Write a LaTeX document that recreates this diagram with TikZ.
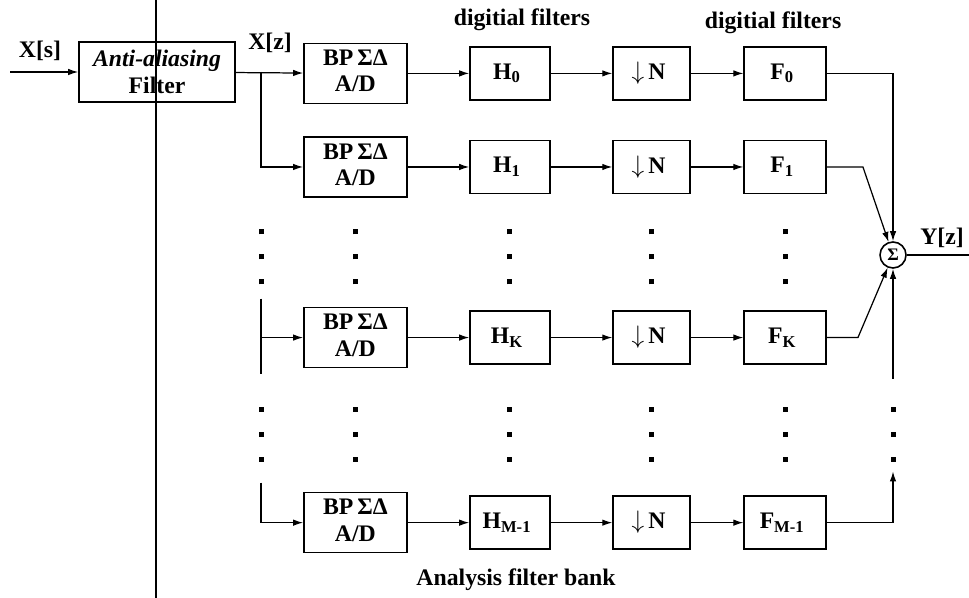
\documentclass[tikz,border=0pt]{standalone}
\usepackage{fontspec}
\setmainfont{Liberation Serif}
\usepackage{tikz}
\usetikzlibrary{matrix,arrows.meta}

\newcommand{\tridots}{\vbox{\offinterlineskip\hbox{\rule{1mm}{1mm}}\vskip4mm\hbox{\rule{1mm}{1mm}}\vskip4mm\hbox{\rule{1mm}{1mm}}}}
\newcommand{\adc}{\begin{tabular}{@{}c@{}}BP\,ΣΔ\\A/D\end{tabular}}

\begin{document}
\begin{tikzpicture}[>={Latex[length=2mm,width=1.3mm]}, line width=0.7pt,
	every node/.style={font=\fontsize{13.5}{15}\selectfont\bfseries},
	blk/.style={draw, line width=0.9pt, align=center},
	dotcell/.style={draw=none, inner sep=0pt, minimum height=1.1cm}]
	\useasboundingbox (0,0) rectangle (19.38,-11.96);
	\matrix(m)[matrix of nodes, matrix anchor=north west, inner sep=0pt,
		nodes={blk, anchor=center, inner sep=2pt, minimum height=1.06cm},
		column 1/.style={nodes={minimum width=2.06cm, minimum height=1.2cm}},
		column 2/.style={nodes={minimum width=1.6cm}},
		column 3/.style={nodes={minimum width=1.54cm}},
		column 4/.style={nodes={minimum width=1.64cm}},
		column sep=1.05cm, row sep=0pt] at (6.05,-0.84) {
		\adc	&[0.18cm] H\textsubscript{0}	&[0.18cm] $\downarrow$\,N	& F\textsubscript{0}	\\[0.64cm]
		\adc	& H\textsubscript{1}	& $\downarrow$\,N	& F\textsubscript{1}	\\[0.63cm]
		|[dotcell]|\tridots	&|[dotcell]|\tridots	&|[dotcell]|\tridots	&|[dotcell]|\tridots	\\[0.45cm]
		\adc	& H\textsubscript{K}	& $\downarrow$\,N	& F\textsubscript{K}	\\[0.77cm]
		|[dotcell]|\tridots	&|[dotcell]|\tridots	&|[dotcell]|\tridots	&|[dotcell]|\tridots	\\[0.6cm]
		\adc	& H\textsubscript{M-1}	& $\downarrow$\,N	& F\textsubscript{M-1}	\\
	};

	% input side
	\coordinate (xin) at (0.2,-1.44);
	\node[blk, minimum width=3.12cm, minimum height=1.2cm] (aaf) at (3.14,-1.44) {\textit{Anti-aliasing}\\Filter};
	\node (xs) at (0.8,-1.02) {X[s]};
	\node (xz) at (5.4,-0.86) {X[z]};
	\draw[->] (xin) -- (aaf);
	\draw[->] (aaf) -- (m-1-1);
	\draw[line width=0.8pt] (3.12,0) -- (3.12,-11.96);

	\node (dig1) at (10.44,-0.4) {digitial filters};
	\node (dig2) at (15.46,-0.46) {digitial filters};
	\node (afb) at (10.32,-11.6) {Analysis filter bank};

	% split to the branches
	\coordinate (split) at (5.22,-1.44);
	\draw[->] (split) |- (m-2-1);
	\node[dotcell] (ld1) at (split |- m-3-1) {\tridots};
	\draw ([yshift=7.8mm]split |- m-4-1) -- ([yshift=-7.2mm]split |- m-4-1);
	\draw[->] (split |- m-4-1) -- (m-4-1);
	\node[dotcell] (ld2) at (split |- m-5-1) {\tridots};
	\draw[->] ([yshift=8mm]split |- m-6-1) |- (m-6-1);

	% along each branch
	\path[->] (m-1-1) edge (m-1-2) (m-1-2) edge (m-1-3) (m-1-3) edge (m-1-4);
	\path[->] (m-2-1) edge (m-2-2) (m-2-2) edge (m-2-3) (m-2-3) edge (m-2-4);
	\path[->] (m-4-1) edge (m-4-2) (m-4-2) edge (m-4-3) (m-4-3) edge (m-4-4);
	\path[->] (m-6-1) edge (m-6-2) (m-6-2) edge (m-6-3) (m-6-3) edge (m-6-4);

	% summation
	\node[draw, circle, line width=0.9pt, inner sep=0pt, minimum size=0.52cm, font=\bfseries] (sum) at (17.86,-5.1) {Σ};
	\node (yz) at (18.84,-4.76) {Y[z]};
	\coordinate (yout) at (19.38,-5.1);
	\draw (sum) -- (yout);
	\draw[->] (m-1-4) -| (sum);
	\draw[->] (m-2-4.east) -- ++(0.72,0) -- (sum);
	\draw[->] (m-4-4.east) -- ++(0.62,0) -- (sum);
	\node[dotcell] (rd) at (sum |- m-5-4) {\tridots};
	\draw[->] (m-6-4) -| ([yshift=-1.8mm]rd.south);
	\draw[->] ([yshift=5.5mm]rd.north) -- (sum);
\end{tikzpicture}
\end{document}
